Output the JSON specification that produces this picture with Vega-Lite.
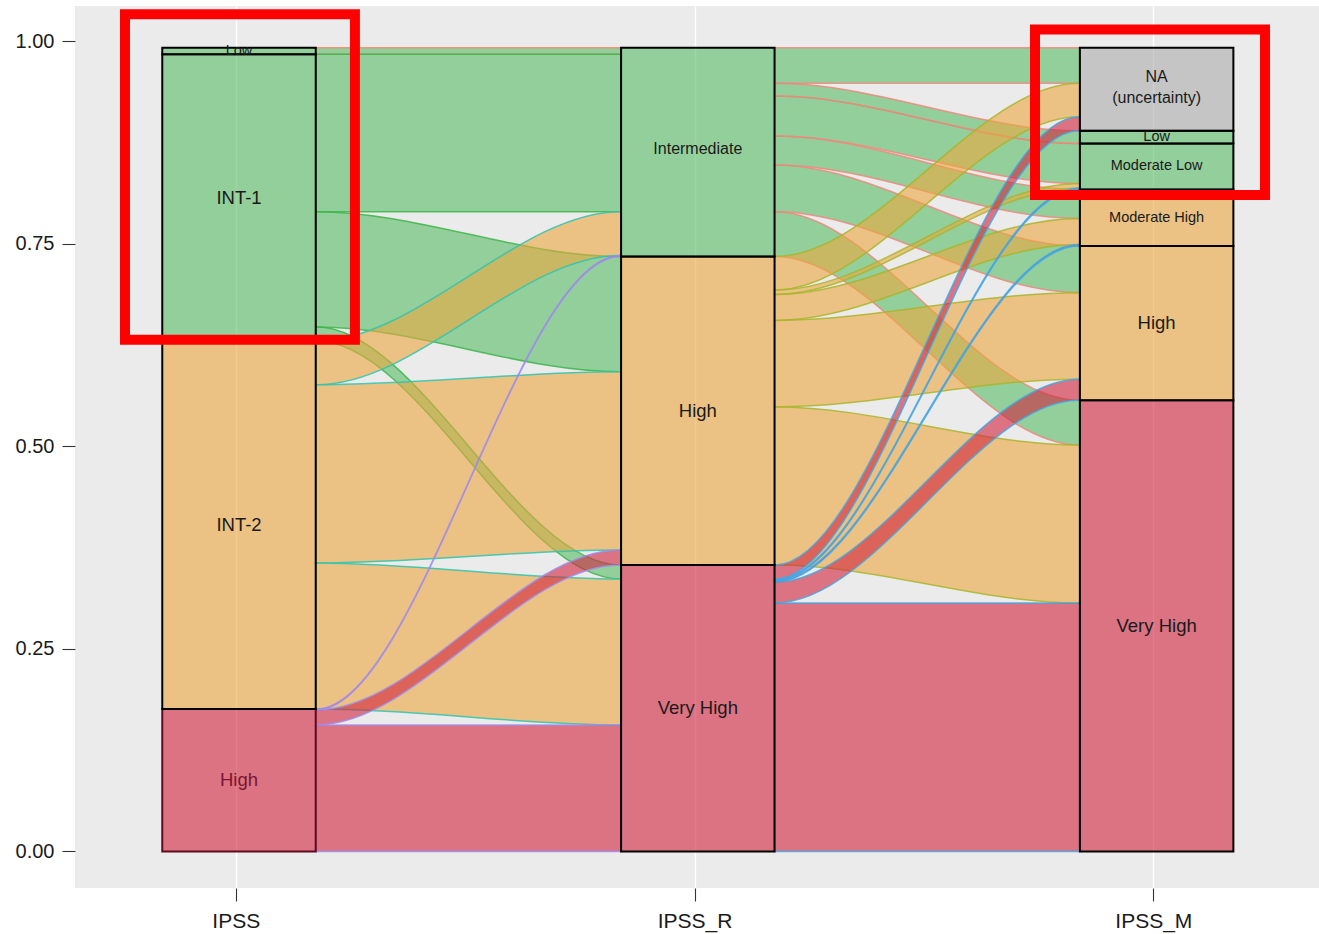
{
  "$schema": "https://vega.github.io/schema/vega-lite/v6.json",
  "width": 1244,
  "height": 882,
  "autosize": "none",
  "padding": {"left": 75, "top": 6, "right": 0, "bottom": 46},
  "background": "#FFFFFF",
  "config": {
    "view": {"fill": "#EBEBEB", "stroke": null},
    "font": "Liberation Sans",
    "axis": {"domain": false, "tickSize": 13, "tickColor": "#333333", "tickWidth": 1.1, "labelFontSize": 20, "labelColor": "#1A1A1A", "labelFont": "Liberation Sans", "gridColor": "#FFFFFF", "gridWidth": 1.4, "gridOpacity": 1},
    "axisX": {"labelPadding": 9, "labelFontSize": 21},
    "axisY": {"labelPadding": 8}
  },
  "datasets": {
    "strata": [
      {"axis": 1, "label": "High", "key": "IPSS: High", "y0": 0, "y1": 0.1759},
      {"axis": 1, "label": "INT-2", "key": "IPSS: INT-2", "y0": 0.1759, "y1": 0.6302},
      {"axis": 1, "label": "INT-1", "key": "IPSS: INT-1", "y0": 0.6302, "y1": 0.9842},
      {"axis": 1, "label": "Low", "key": "IPSS: Low", "y0": 0.9842, "y1": 0.9924},
      {"axis": 2, "label": "Very High", "key": "IPSS_R: Very High", "y0": 0, "y1": 0.3537},
      {"axis": 2, "label": "High", "key": "IPSS_R: High", "y0": 0.3537, "y1": 0.7346},
      {"axis": 2, "label": "Intermediate", "key": "IPSS_R: Intermediate", "y0": 0.7346, "y1": 0.9924},
      {"axis": 3, "label": "Very High", "key": "IPSS_M: Very High", "y0": 0, "y1": 0.5572},
      {"axis": 3, "label": "High", "key": "IPSS_M: High", "y0": 0.5572, "y1": 0.7475},
      {"axis": 3, "label": "Moderate High", "key": "IPSS_M: Moderate High", "y0": 0.7475, "y1": 0.8173},
      {"axis": 3, "label": "Moderate Low", "key": "IPSS_M: Moderate Low", "y0": 0.8173, "y1": 0.8741},
      {"axis": 3, "label": "Low", "key": "IPSS_M: Low", "y0": 0.8741, "y1": 0.8898},
      {"axis": 3, "label": "NA\n(uncertainty)", "key": "IPSS_M: NA", "y0": 0.8898, "y1": 0.9924}
    ],
    "flows": [
      {"f": "a01", "s": "IPSS: Low", "x": 1.1667, "y": 0.9924, "y2": 0.9842},
      {"f": "a01", "s": "IPSS: Low", "x": 1.1687, "y": 0.9924, "y2": 0.9842},
      {"f": "a01", "s": "IPSS: Low", "x": 1.8313, "y": 0.9924, "y2": 0.9842},
      {"f": "a01", "s": "IPSS: Low", "x": 1.8333, "y": 0.9924, "y2": 0.9842},
      {"f": "a02", "s": "IPSS: INT-1", "x": 1.1667, "y": 0.9842, "y2": 0.7899},
      {"f": "a02", "s": "IPSS: INT-1", "x": 1.1687, "y": 0.9842, "y2": 0.7899},
      {"f": "a02", "s": "IPSS: INT-1", "x": 1.8313, "y": 0.9842, "y2": 0.7899},
      {"f": "a02", "s": "IPSS: INT-1", "x": 1.8333, "y": 0.9842, "y2": 0.7899},
      {"f": "a03", "s": "IPSS: INT-1", "x": 1.1667, "y": 0.7899, "y2": 0.6475},
      {"f": "a03", "s": "IPSS: INT-1", "x": 1.1687, "y": 0.7899, "y2": 0.6475},
      {"f": "a03", "s": "IPSS: INT-1", "x": 1.8313, "y": 0.7346, "y2": 0.5922},
      {"f": "a03", "s": "IPSS: INT-1", "x": 1.8333, "y": 0.7346, "y2": 0.5922},
      {"f": "a04", "s": "IPSS: INT-1", "x": 1.1667, "y": 0.6475, "y2": 0.6302},
      {"f": "a04", "s": "IPSS: INT-1", "x": 1.1687, "y": 0.6475, "y2": 0.6302},
      {"f": "a04", "s": "IPSS: INT-1", "x": 1.8313, "y": 0.3537, "y2": 0.3364},
      {"f": "a04", "s": "IPSS: INT-1", "x": 1.8333, "y": 0.3537, "y2": 0.3364},
      {"f": "a05", "s": "IPSS: INT-2", "x": 1.1667, "y": 0.6302, "y2": 0.5762},
      {"f": "a05", "s": "IPSS: INT-2", "x": 1.1687, "y": 0.6302, "y2": 0.5762},
      {"f": "a05", "s": "IPSS: INT-2", "x": 1.8313, "y": 0.7899, "y2": 0.7358},
      {"f": "a05", "s": "IPSS: INT-2", "x": 1.8333, "y": 0.7899, "y2": 0.7358},
      {"f": "a06", "s": "IPSS: INT-2", "x": 1.1667, "y": 0.5762, "y2": 0.3562},
      {"f": "a06", "s": "IPSS: INT-2", "x": 1.1687, "y": 0.5762, "y2": 0.3562},
      {"f": "a06", "s": "IPSS: INT-2", "x": 1.8313, "y": 0.5922, "y2": 0.3722},
      {"f": "a06", "s": "IPSS: INT-2", "x": 1.8333, "y": 0.5922, "y2": 0.3722},
      {"f": "a07", "s": "IPSS: INT-2", "x": 1.1667, "y": 0.3562, "y2": 0.1759},
      {"f": "a07", "s": "IPSS: INT-2", "x": 1.1687, "y": 0.3562, "y2": 0.1759},
      {"f": "a07", "s": "IPSS: INT-2", "x": 1.8313, "y": 0.3364, "y2": 0.1562},
      {"f": "a07", "s": "IPSS: INT-2", "x": 1.8333, "y": 0.3364, "y2": 0.1562},
      {"f": "a08", "s": "IPSS: High", "x": 1.1667, "y": 0.1759, "y2": 0.1747},
      {"f": "a08", "s": "IPSS: High", "x": 1.1687, "y": 0.1759, "y2": 0.1747},
      {"f": "a08", "s": "IPSS: High", "x": 1.8313, "y": 0.7358, "y2": 0.7346},
      {"f": "a08", "s": "IPSS: High", "x": 1.8333, "y": 0.7358, "y2": 0.7346},
      {"f": "a09", "s": "IPSS: High", "x": 1.1667, "y": 0.1747, "y2": 0.1562},
      {"f": "a09", "s": "IPSS: High", "x": 1.1687, "y": 0.1747, "y2": 0.1562},
      {"f": "a09", "s": "IPSS: High", "x": 1.8313, "y": 0.3722, "y2": 0.3537},
      {"f": "a09", "s": "IPSS: High", "x": 1.8333, "y": 0.3722, "y2": 0.3537},
      {"f": "a10", "s": "IPSS: High", "x": 1.1667, "y": 0.1562, "y2": 0},
      {"f": "a10", "s": "IPSS: High", "x": 1.1687, "y": 0.1562, "y2": 0},
      {"f": "a10", "s": "IPSS: High", "x": 1.8313, "y": 0.1562, "y2": 0},
      {"f": "a10", "s": "IPSS: High", "x": 1.8333, "y": 0.1562, "y2": 0},
      {"f": "b01", "s": "IPSS_R: Intermediate", "x": 2.1667, "y": 0.9924, "y2": 0.9484},
      {"f": "b01", "s": "IPSS_R: Intermediate", "x": 2.1687, "y": 0.9924, "y2": 0.9484},
      {"f": "b01", "s": "IPSS_R: Intermediate", "x": 2.8313, "y": 0.9924, "y2": 0.9484},
      {"f": "b01", "s": "IPSS_R: Intermediate", "x": 2.8333, "y": 0.9924, "y2": 0.9484},
      {"f": "b02", "s": "IPSS_R: Intermediate", "x": 2.1667, "y": 0.9484, "y2": 0.9327},
      {"f": "b02", "s": "IPSS_R: Intermediate", "x": 2.1687, "y": 0.9484, "y2": 0.9327},
      {"f": "b02", "s": "IPSS_R: Intermediate", "x": 2.8313, "y": 0.8898, "y2": 0.8741},
      {"f": "b02", "s": "IPSS_R: Intermediate", "x": 2.8333, "y": 0.8898, "y2": 0.8741},
      {"f": "b03", "s": "IPSS_R: Intermediate", "x": 2.1667, "y": 0.9327, "y2": 0.8833},
      {"f": "b03", "s": "IPSS_R: Intermediate", "x": 2.1687, "y": 0.9327, "y2": 0.8833},
      {"f": "b03", "s": "IPSS_R: Intermediate", "x": 2.8313, "y": 0.8741, "y2": 0.8247},
      {"f": "b03", "s": "IPSS_R: Intermediate", "x": 2.8333, "y": 0.8741, "y2": 0.8247},
      {"f": "b04", "s": "IPSS_R: Intermediate", "x": 2.1667, "y": 0.8833, "y2": 0.8475},
      {"f": "b04", "s": "IPSS_R: Intermediate", "x": 2.1687, "y": 0.8833, "y2": 0.8475},
      {"f": "b04", "s": "IPSS_R: Intermediate", "x": 2.8313, "y": 0.8173, "y2": 0.7815},
      {"f": "b04", "s": "IPSS_R: Intermediate", "x": 2.8333, "y": 0.8173, "y2": 0.7815},
      {"f": "b05", "s": "IPSS_R: Intermediate", "x": 2.1667, "y": 0.8475, "y2": 0.7899},
      {"f": "b05", "s": "IPSS_R: Intermediate", "x": 2.1687, "y": 0.8475, "y2": 0.7899},
      {"f": "b05", "s": "IPSS_R: Intermediate", "x": 2.8313, "y": 0.7475, "y2": 0.6899},
      {"f": "b05", "s": "IPSS_R: Intermediate", "x": 2.8333, "y": 0.7475, "y2": 0.6899},
      {"f": "b06", "s": "IPSS_R: Intermediate", "x": 2.1667, "y": 0.7899, "y2": 0.7346},
      {"f": "b06", "s": "IPSS_R: Intermediate", "x": 2.1687, "y": 0.7899, "y2": 0.7346},
      {"f": "b06", "s": "IPSS_R: Intermediate", "x": 2.8313, "y": 0.5572, "y2": 0.5019},
      {"f": "b06", "s": "IPSS_R: Intermediate", "x": 2.8333, "y": 0.5572, "y2": 0.5019},
      {"f": "b07", "s": "IPSS_R: High", "x": 2.1667, "y": 0.7346, "y2": 0.6932},
      {"f": "b07", "s": "IPSS_R: High", "x": 2.1687, "y": 0.7346, "y2": 0.6932},
      {"f": "b07", "s": "IPSS_R: High", "x": 2.8313, "y": 0.9484, "y2": 0.9070},
      {"f": "b07", "s": "IPSS_R: High", "x": 2.8333, "y": 0.9484, "y2": 0.9070},
      {"f": "b08", "s": "IPSS_R: High", "x": 2.1667, "y": 0.6932, "y2": 0.6877},
      {"f": "b08", "s": "IPSS_R: High", "x": 2.1687, "y": 0.6932, "y2": 0.6877},
      {"f": "b08", "s": "IPSS_R: High", "x": 2.8313, "y": 0.8247, "y2": 0.8191},
      {"f": "b08", "s": "IPSS_R: High", "x": 2.8333, "y": 0.8247, "y2": 0.8191},
      {"f": "b09", "s": "IPSS_R: High", "x": 2.1667, "y": 0.6877, "y2": 0.6556},
      {"f": "b09", "s": "IPSS_R: High", "x": 2.1687, "y": 0.6877, "y2": 0.6556},
      {"f": "b09", "s": "IPSS_R: High", "x": 2.8313, "y": 0.7815, "y2": 0.7494},
      {"f": "b09", "s": "IPSS_R: High", "x": 2.8333, "y": 0.7815, "y2": 0.7494},
      {"f": "b10", "s": "IPSS_R: High", "x": 2.1667, "y": 0.6556, "y2": 0.5488},
      {"f": "b10", "s": "IPSS_R: High", "x": 2.1687, "y": 0.6556, "y2": 0.5488},
      {"f": "b10", "s": "IPSS_R: High", "x": 2.8313, "y": 0.6899, "y2": 0.5831},
      {"f": "b10", "s": "IPSS_R: High", "x": 2.8333, "y": 0.6899, "y2": 0.5831},
      {"f": "b11", "s": "IPSS_R: High", "x": 2.1667, "y": 0.5488, "y2": 0.3537},
      {"f": "b11", "s": "IPSS_R: High", "x": 2.1687, "y": 0.5488, "y2": 0.3537},
      {"f": "b11", "s": "IPSS_R: High", "x": 2.8313, "y": 0.5019, "y2": 0.3068},
      {"f": "b11", "s": "IPSS_R: High", "x": 2.8333, "y": 0.5019, "y2": 0.3068},
      {"f": "b12", "s": "IPSS_R: Very High", "x": 2.1667, "y": 0.3537, "y2": 0.3364},
      {"f": "b12", "s": "IPSS_R: Very High", "x": 2.1687, "y": 0.3537, "y2": 0.3364},
      {"f": "b12", "s": "IPSS_R: Very High", "x": 2.8313, "y": 0.9070, "y2": 0.8898},
      {"f": "b12", "s": "IPSS_R: Very High", "x": 2.8333, "y": 0.9070, "y2": 0.8898},
      {"f": "b13", "s": "IPSS_R: Very High", "x": 2.1667, "y": 0.3364, "y2": 0.3346},
      {"f": "b13", "s": "IPSS_R: Very High", "x": 2.1687, "y": 0.3364, "y2": 0.3346},
      {"f": "b13", "s": "IPSS_R: Very High", "x": 2.8313, "y": 0.8191, "y2": 0.8173},
      {"f": "b13", "s": "IPSS_R: Very High", "x": 2.8333, "y": 0.8191, "y2": 0.8173},
      {"f": "b14", "s": "IPSS_R: Very High", "x": 2.1667, "y": 0.3346, "y2": 0.3327},
      {"f": "b14", "s": "IPSS_R: Very High", "x": 2.1687, "y": 0.3346, "y2": 0.3327},
      {"f": "b14", "s": "IPSS_R: Very High", "x": 2.8313, "y": 0.7494, "y2": 0.7475},
      {"f": "b14", "s": "IPSS_R: Very High", "x": 2.8333, "y": 0.7494, "y2": 0.7475},
      {"f": "b15", "s": "IPSS_R: Very High", "x": 2.1667, "y": 0.3327, "y2": 0.3068},
      {"f": "b15", "s": "IPSS_R: Very High", "x": 2.1687, "y": 0.3327, "y2": 0.3068},
      {"f": "b15", "s": "IPSS_R: Very High", "x": 2.8313, "y": 0.5831, "y2": 0.5572},
      {"f": "b15", "s": "IPSS_R: Very High", "x": 2.8333, "y": 0.5831, "y2": 0.5572},
      {"f": "b16", "s": "IPSS_R: Very High", "x": 2.1667, "y": 0.3068, "y2": 0},
      {"f": "b16", "s": "IPSS_R: Very High", "x": 2.1687, "y": 0.3068, "y2": 0},
      {"f": "b16", "s": "IPSS_R: Very High", "x": 2.8313, "y": 0.3068, "y2": 0},
      {"f": "b16", "s": "IPSS_R: Very High", "x": 2.8333, "y": 0.3068, "y2": 0}
    ],
    "boxes": [
      {"x0": 0.7587, "x1": 1.2598, "y0": 0.6319, "y1": 1.0336},
      {"x0": 2.7421, "x1": 3.2434, "y0": 0.8105, "y1": 1.0148}
    ]
  },
  "layer": [
    {
      "data": {"name": "flows"},
      "mark": {"type": "area", "interpolate": "monotone", "fillOpacity": 0.6, "strokeWidth": 1.5, "strokeOpacity": 0.85, "xOffset": 3.3},
      "encoding": {
        "x": {"field": "x", "type": "quantitative", "scale": {"domain": [0.6497, 3.3611], "nice": false, "zero": false, "padding": 0}, "axis": {"values": [1, 2, 3], "labelExpr": "datum.value == 1 ? 'IPSS' : (datum.value == 2 ? 'IPSS_R' : 'IPSS_M')", "title": null, "grid": true}},
        "y": {"field": "y", "type": "quantitative", "stack": null, "scale": {"domain": [-0.0451, 1.0438], "nice": false, "zero": false, "padding": 0}, "axis": {"values": [0, 0.25, 0.5, 0.75, 1], "format": ".2f", "title": null, "grid": false}},
        "y2": {"field": "y2"},
        "detail": {"field": "f", "type": "nominal"},
        "fill": {"field": "s", "type": "nominal", "legend": null, "scale": {"domain": ["IPSS: Low", "IPSS: INT-1", "IPSS: INT-2", "IPSS: High", "IPSS_R: Intermediate", "IPSS_R: High", "IPSS_R: Very High", "IPSS_M: NA", "IPSS_M: Low", "IPSS_M: Moderate Low", "IPSS_M: Moderate High", "IPSS_M: High", "IPSS_M: Very High"], "range": ["#58BC65", "#58BC65", "#EBA73E", "#D0233E", "#58BC65", "#EBA73E", "#D0233E", "#ACACAC", "#58BC65", "#58BC65", "#EBA73E", "#EBA73E", "#D0233E"]}},
        "stroke": {"field": "s", "type": "nominal", "legend": null, "scale": {"domain": ["IPSS: Low", "IPSS: INT-1", "IPSS: INT-2", "IPSS: High", "IPSS_R: Intermediate", "IPSS_R: High", "IPSS_R: Very High"], "range": ["#F08A6A", "#3DB54A", "#2EC4B0", "#9D8DF1", "#F0877C", "#A9B52B", "#3FA9E8"]}}
      }
    },
    {
      "data": {"name": "strata"},
      "mark": {"type": "bar", "width": 153.5, "xOffset": 3.3, "fillOpacity": 0.6, "strokeWidth": 2, "strokeOpacity": 1},
      "encoding": {
        "x": {"field": "axis", "type": "quantitative", "scale": {"domain": [0.6497, 3.3611], "nice": false, "zero": false, "padding": 0}, "axis": {"values": [1, 2, 3], "labelExpr": "datum.value == 1 ? 'IPSS' : (datum.value == 2 ? 'IPSS_R' : 'IPSS_M')", "title": null, "grid": true}},
        "y": {"field": "y0", "type": "quantitative", "stack": null, "scale": {"domain": [-0.0451, 1.0438], "nice": false, "zero": false, "padding": 0}, "axis": {"values": [0, 0.25, 0.5, 0.75, 1], "format": ".2f", "title": null, "grid": false}},
        "y2": {"field": "y1"},
        "fill": {"field": "key", "type": "nominal", "legend": null, "scale": {"domain": ["IPSS: Low", "IPSS: INT-1", "IPSS: INT-2", "IPSS: High", "IPSS_R: Intermediate", "IPSS_R: High", "IPSS_R: Very High", "IPSS_M: NA", "IPSS_M: Low", "IPSS_M: Moderate Low", "IPSS_M: Moderate High", "IPSS_M: High", "IPSS_M: Very High"], "range": ["#58BC65", "#58BC65", "#EBA73E", "#D0233E", "#58BC65", "#EBA73E", "#D0233E", "#ACACAC", "#58BC65", "#58BC65", "#EBA73E", "#EBA73E", "#D0233E"]}},
        "stroke": {"condition": {"test": "datum.key === 'IPSS: High'", "value": "#5E0B1D"}, "value": "#000000"}
      }
    },
    {
      "data": {"name": "strata"},
      "transform": [
        {"filter": {"field": "label", "oneOf": ["INT-1", "INT-2", "High", "Very High"]}},
        {"calculate": "(datum.y0 + datum.y1) / 2", "as": "ym"}
      ],
      "mark": {"type": "text", "xOffset": 3.3, "fontSize": 18.5, "baseline": "middle", "align": "center", "font": "Liberation Sans"},
      "encoding": {
        "x": {"field": "axis", "type": "quantitative", "scale": {"domain": [0.6497, 3.3611], "nice": false, "zero": false, "padding": 0}, "axis": {"values": [1, 2, 3], "labelExpr": "datum.value == 1 ? 'IPSS' : (datum.value == 2 ? 'IPSS_R' : 'IPSS_M')", "title": null, "grid": true}},
        "y": {"field": "ym", "type": "quantitative", "scale": {"domain": [-0.0451, 1.0438], "nice": false, "zero": false, "padding": 0}, "axis": {"values": [0, 0.25, 0.5, 0.75, 1], "format": ".2f", "title": null, "grid": false}},
        "text": {"field": "label", "type": "nominal"},
        "color": {"condition": {"test": "datum.key === 'IPSS: High'", "value": "#7B1530"}, "value": "#1A1A1A"}
      }
    },
    {
      "data": {"name": "strata"},
      "transform": [
        {"filter": {"field": "label", "oneOf": ["Intermediate"]}},
        {"calculate": "(datum.y0 + datum.y1) / 2", "as": "ym"}
      ],
      "mark": {"type": "text", "xOffset": 3.3, "dy": -3, "fontSize": 16, "baseline": "middle", "align": "center", "font": "Liberation Sans", "color": "#1A1A1A"},
      "encoding": {
        "x": {"field": "axis", "type": "quantitative", "scale": {"domain": [0.6497, 3.3611], "nice": false, "zero": false, "padding": 0}, "axis": {"values": [1, 2, 3], "labelExpr": "datum.value == 1 ? 'IPSS' : (datum.value == 2 ? 'IPSS_R' : 'IPSS_M')", "title": null, "grid": true}},
        "y": {"field": "ym", "type": "quantitative", "scale": {"domain": [-0.0451, 1.0438], "nice": false, "zero": false, "padding": 0}, "axis": {"values": [0, 0.25, 0.5, 0.75, 1], "format": ".2f", "title": null, "grid": false}},
        "text": {"field": "label", "type": "nominal"}
      }
    },
    {
      "data": {"name": "strata"},
      "transform": [
        {"filter": {"field": "label", "oneOf": ["NA\n(uncertainty)"]}},
        {"calculate": "(datum.y0 + datum.y1) / 2", "as": "ym"}
      ],
      "mark": {"type": "text", "xOffset": 3.3, "dy": -12, "fontSize": 16, "lineBreak": "\n", "lineHeight": 21, "baseline": "middle", "align": "center", "font": "Liberation Sans", "color": "#1A1A1A"},
      "encoding": {
        "x": {"field": "axis", "type": "quantitative", "scale": {"domain": [0.6497, 3.3611], "nice": false, "zero": false, "padding": 0}, "axis": {"values": [1, 2, 3], "labelExpr": "datum.value == 1 ? 'IPSS' : (datum.value == 2 ? 'IPSS_R' : 'IPSS_M')", "title": null, "grid": true}},
        "y": {"field": "ym", "type": "quantitative", "scale": {"domain": [-0.0451, 1.0438], "nice": false, "zero": false, "padding": 0}, "axis": {"values": [0, 0.25, 0.5, 0.75, 1], "format": ".2f", "title": null, "grid": false}},
        "text": {"field": "label", "type": "nominal"}
      }
    },
    {
      "data": {"name": "strata"},
      "transform": [
        {"filter": {"field": "label", "oneOf": ["Moderate Low", "Moderate High"]}},
        {"calculate": "(datum.y0 + datum.y1) / 2", "as": "ym"}
      ],
      "mark": {"type": "text", "xOffset": 3.3, "fontSize": 14.5, "baseline": "middle", "align": "center", "font": "Liberation Sans", "color": "#1A1A1A"},
      "encoding": {
        "x": {"field": "axis", "type": "quantitative", "scale": {"domain": [0.6497, 3.3611], "nice": false, "zero": false, "padding": 0}, "axis": {"values": [1, 2, 3], "labelExpr": "datum.value == 1 ? 'IPSS' : (datum.value == 2 ? 'IPSS_R' : 'IPSS_M')", "title": null, "grid": true}},
        "y": {"field": "ym", "type": "quantitative", "scale": {"domain": [-0.0451, 1.0438], "nice": false, "zero": false, "padding": 0}, "axis": {"values": [0, 0.25, 0.5, 0.75, 1], "format": ".2f", "title": null, "grid": false}},
        "text": {"field": "label", "type": "nominal"}
      }
    },
    {
      "data": {"name": "strata"},
      "transform": [
        {"filter": {"field": "label", "oneOf": ["Low"]}},
        {"calculate": "(datum.y0 + datum.y1) / 2", "as": "ym"}
      ],
      "mark": {"type": "text", "xOffset": 3.3, "fontSize": 14.5, "baseline": "middle", "align": "center", "font": "Liberation Sans", "color": "#1A1A1A"},
      "encoding": {
        "x": {"field": "axis", "type": "quantitative", "scale": {"domain": [0.6497, 3.3611], "nice": false, "zero": false, "padding": 0}, "axis": {"values": [1, 2, 3], "labelExpr": "datum.value == 1 ? 'IPSS' : (datum.value == 2 ? 'IPSS_R' : 'IPSS_M')", "title": null, "grid": true}},
        "y": {"field": "ym", "type": "quantitative", "scale": {"domain": [-0.0451, 1.0438], "nice": false, "zero": false, "padding": 0}, "axis": {"values": [0, 0.25, 0.5, 0.75, 1], "format": ".2f", "title": null, "grid": false}},
        "text": {"field": "label", "type": "nominal"}
      }
    },
    {
      "data": {"name": "boxes"},
      "mark": {"type": "rect", "filled": false, "stroke": "#FF0000", "strokeWidth": 10, "strokeJoin": "miter"},
      "encoding": {
        "x": {"field": "x0", "type": "quantitative", "scale": {"domain": [0.6497, 3.3611], "nice": false, "zero": false, "padding": 0}, "axis": {"values": [1, 2, 3], "labelExpr": "datum.value == 1 ? 'IPSS' : (datum.value == 2 ? 'IPSS_R' : 'IPSS_M')", "title": null, "grid": true}},
        "x2": {"field": "x1"},
        "y": {"field": "y0", "type": "quantitative", "scale": {"domain": [-0.0451, 1.0438], "nice": false, "zero": false, "padding": 0}, "axis": {"values": [0, 0.25, 0.5, 0.75, 1], "format": ".2f", "title": null, "grid": false}},
        "y2": {"field": "y1"}
      }
    }
  ]
}
